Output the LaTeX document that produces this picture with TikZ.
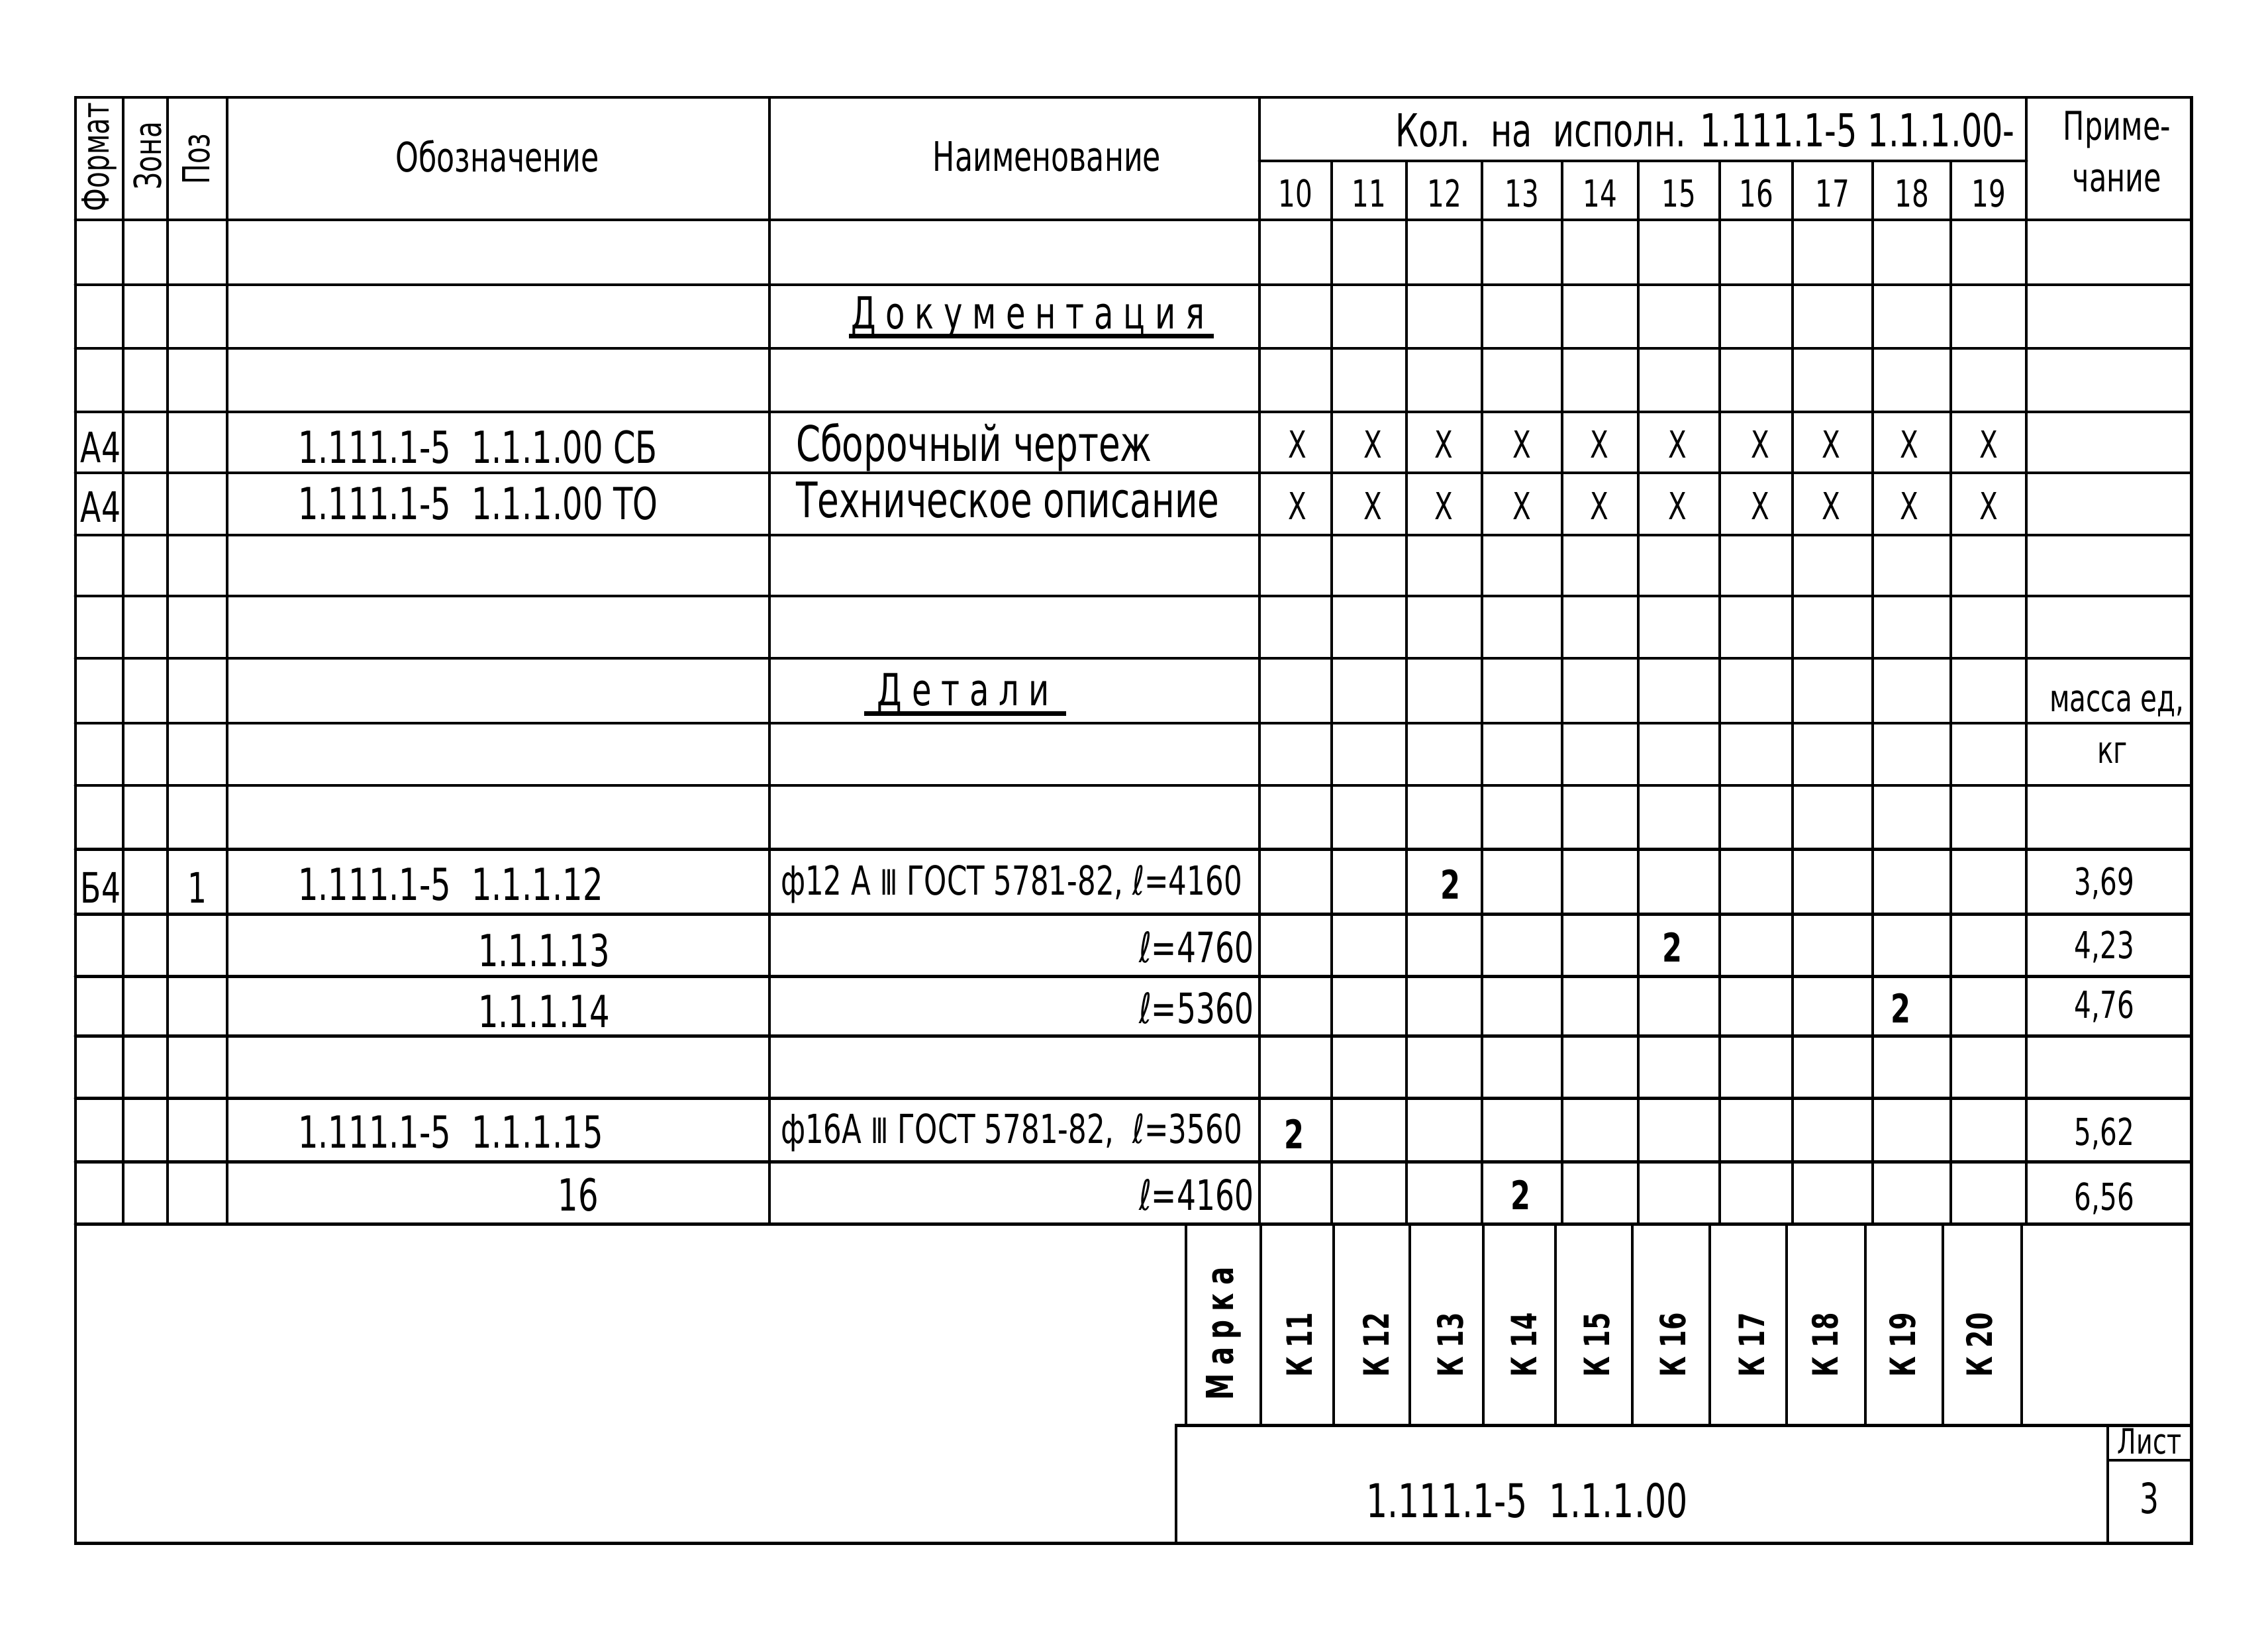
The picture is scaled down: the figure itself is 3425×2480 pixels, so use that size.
\documentclass[tikz,border=0pt]{standalone}
\usepackage{fontspec}
\setmainfont{DejaVu Sans}[FakeStretch=0.72]
\newfontfamily\gfs{DejaVu Sans}[FakeStretch=0.72,LetterSpace=22]
\newcommand\fsz[1]{\fontsize{#1}{#1}\selectfont}
\begin{document}
\begin{tikzpicture}[x=0.01cm,y=-0.01cm,
  hl/.style={line width=1.4pt,line cap=round},
  vl/.style={line width=0.9pt},
  t/.style={inner sep=0pt,outer sep=0pt},
  hdr/.style={t,font=\fsz{17.5}},
  rhdr/.style={t,font=\fsz{16},rotate=90},
  body/.style={t,font=\fsz{21}},
  code/.style={t,font=\fsz{19}},
  det/.style={t,font=\fsz{18}},
  gost/.style={t,font=\fsz{17.2}},
  num/.style={t,font=\fsz{16}},
  xm/.style={t,font=\fsz{16}},
  two/.style={t,font=\bfseries\fsz{17}},
  mass/.style={t,font=\fsz{16}},
  spaced/.style={t,font=\gfs\fsz{19}},
  ul/.style={line width=2pt},
  klab/.style={t,font=\bfseries\fsz{15},rotate=90}]
\useasboundingbox (0,0) rectangle (3425,2480);
\fill[white] (0,0) rectangle (3425,2480);

% ---------- grid ----------
\draw[hl] (114,147) rectangle (3309,2330);
\foreach \y in {332,430,526,622,714,808,900,994,1092,1186,1282,1380,1474,1564,1658,1754,1848}
  \draw[hl] (114,\y) -- (3309,\y);
\draw[hl] (1902,243) -- (3060,243);
\foreach \x in {186,253,343,1162,1902,3060}
  \draw[vl] (\x,147) -- (\x,1848);
\foreach \x in {2011,2124,2238,2359,2474,2597,2707,2828,2946}
  \draw[vl] (\x,243) -- (\x,1848);
\foreach \x in {1791,1904,2014,2129,2240,2349,2465,2582,2698,2817,2934,3053}
  \draw[vl] (\x,1848) -- (\x,2152);
\draw[hl] (1776,2330) -- (1776,2152) -- (3309,2152);
\draw[vl] (3183,2152) -- (3183,2330);
\draw[vl] (3183,2205) -- (3309,2205);

% ---------- header ----------
\node[rhdr] (fmt) at (150,237) {Формат};
\node[rhdr] (zona) at (223,235) {Зона};
\node[rhdr] (poz) at (296,240) {Поз};
\node[hdr] (obz) at (751,236) {Обозначение};
\node[hdr] (naim) at (1581,236) {Наименование};
\node[t,font=\fsz{19.5}] (kol) at (2575,197) {Кол.\ \ на\ \ исполн. 1.111.1-5 1.1.1.00-};
\node[t,font=\fsz{17}] (prim1) at (3197,196) {Приме-};
\node[t,font=\fsz{17}] (prim2) at (3197,273) {чание};
\foreach \n/\x in {10/1956,11/2067,12/2181,13/2298,14/2416,15/2535,16/2652,17/2767,18/2887,19/3003}
  \node[num] (h\n) at (\x,292) {\n};

% ---------- documentation ----------
\node[spaced] (doc) at (1552,479) {Документация};
\draw[ul] (1282,507) -- (1833,507);
\node[det] (a4a) at (152,675) {А4};
\node[code,anchor=west] (d1) at (450,675) {1.111.1-5\ \ 1.1.1.00 СБ};
\node[body,anchor=west] (n1) at (1202,675) {Сборочный чертеж};
\node[det] (a4b) at (152,765) {А4};
\node[code,anchor=west] (d2) at (450,760) {1.111.1-5\ \ 1.1.1.00 ТО};
\node[body,anchor=west] (n2) at (1202,755) {Техническое описание};
\foreach \x [count=\i] in {1959,2073,2180,2298,2415,2533,2658,2765,2883,3003} {
  \node[xm] (xa\i) at (\x,671) {X};
  \node[xm] (xb\i) at (\x,764) {X};
}

% ---------- details ----------
\node[spaced] (det) at (1455,1046) {Детали};
\draw[ul] (1305,1077) -- (1610,1077);
\node[t,font=\fsz{16}] (massa) at (3197,1063) {масса ед,};
\node[t,font=\fsz{16}] (kg) at (3190,1137) {кг};

\node[det] (b4) at (152,1340) {Б4};
\node[det] (p1) at (298,1340) {1};
\node[code,anchor=west] (c12) at (450,1335) {1.111.1-5\ \ 1.1.1.12};
\node[gost,anchor=west] (m12) at (1179,1335) {ф12 А {\fsz{15}Ⅲ} ГОСТ 5781-82, ℓ=4160};
\node[two] (q12) at (2190,1335) {2};
\node[mass] (w12) at (3178,1334) {3,69};

\node[code,anchor=east] (c13) at (921,1435) {1.1.1.13};
\node[det,anchor=east] (m13) at (1893,1430) {ℓ=4760};
\node[two] (q13) at (2525,1430) {2};
\node[mass] (w13) at (3178,1430) {4,23};

\node[code,anchor=east] (c14) at (921,1527) {1.1.1.14};
\node[det,anchor=east] (m14) at (1893,1522) {ℓ=5360};
\node[two] (q14) at (2870,1522) {2};
\node[mass] (w14) at (3178,1520) {4,76};

\node[code,anchor=west] (c15) at (450,1710) {1.111.1-5\ \ 1.1.1.15};
\node[gost,anchor=west] (m15) at (1179,1710) {ф16А {\fsz{15}Ⅲ} ГОСТ 5781-82,\ \ ℓ=3560};
\node[two] (q15) at (1954,1712) {2};
\node[mass] (w15) at (3178,1712) {5,62};

\node[code,anchor=east] (c16) at (904,1804) {16};
\node[det,anchor=east] (m16) at (1893,1804) {ℓ=4160};
\node[two] (q16) at (2296,1804) {2};
\node[mass] (w16) at (3178,1810) {6,56};

% ---------- marka row ----------
\node[t,font=\gfs\bfseries\fsz{16},rotate=90] (marka) at (1848,2014) {Марка};
\foreach \n/\x in {11/1962,12/2078,13/2190,14/2301,15/2412,16/2526,17/2645,18/2756,19/2873,20/2989}
  \node[klab] (k\n) at (\x,2031) {К \n};

% ---------- title block ----------
\node[t,font=\fsz{20}] (ttl) at (2306,2266) {1.111.1-5\ \ 1.1.1.00};
\node[t,font=\fsz{15}] (list) at (3246,2177) {Лист};
\node[t,font=\fsz{18}] (sheet) at (3246,2262) {3};
\end{tikzpicture}
\end{document}
